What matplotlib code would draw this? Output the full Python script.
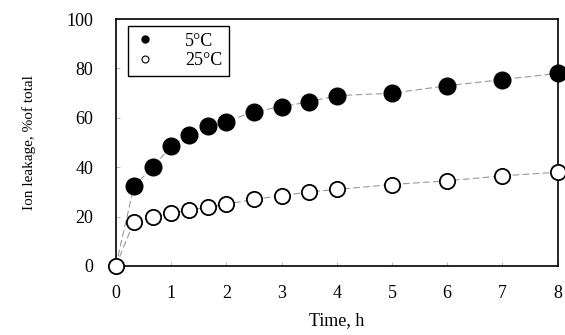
import matplotlib.pyplot as plt

plt.rcParams['font.family'] = ['Liberation Serif', 'DejaVu Serif']

time_h = [0, 0.33, 0.67, 1, 1.33, 1.67, 2, 2.5, 3, 3.5, 4, 5, 6, 7, 8]
leak_5c = [0, 32.5, 40, 48.5, 53, 56.5, 58.5, 62.5, 64.5, 66.5, 69, 70, 73, 75.5, 78]
leak_25c = [0, 18, 20, 21.5, 22.5, 24, 25, 27, 28.5, 30, 31, 33, 34.5, 36.5, 38]

fig = plt.figure(figsize=(5.65, 3.35), dpi=100)
ax = fig.add_axes([0.205, 0.206, 0.782, 0.737])

ax.plot(time_h, leak_5c, color='#999999', lw=0.8, ls=(0, (6, 3)), zorder=1)
ax.plot(time_h[1:], leak_5c[1:], 'o', color='black', ms=12, ls='none', zorder=3)
ax.plot(time_h, leak_25c, color='#999999', lw=0.8, ls=(0, (6, 3)), zorder=1)
ax.plot(time_h, leak_25c, 'o', mfc='white', mec='black', mew=1.3, ms=11, ls='none', zorder=4)

# legend handles with small markers
h1, = ax.plot([], [], 'o', color='black', ms=5)
h2, = ax.plot([], [], 'o', mfc='white', mec='black', mew=0.8, ms=5)
leg = ax.legend([h1, h2], ['5°C', '25°C'], loc='upper left', bbox_to_anchor=(0.02, 0.985),
                fancybox=False, edgecolor='black', fontsize=13, handlelength=1.2,
                handletextpad=1.6, borderpad=0.35, labelspacing=0.15, framealpha=1,
                borderaxespad=0.2)
leg.get_frame().set_linewidth(1.0)

ax.set_xlim(0, 8)
ax.set_ylim(0, 100)
ax.set_xticks(range(0, 9))
ax.set_yticks(range(0, 101, 20))
ax.tick_params(direction='in', length=3, color='#bbbbbb', labelsize=13)
ax.tick_params(axis='x', pad=14)
ax.tick_params(axis='y', pad=16)
for s in ax.spines.values():
    s.set_linewidth(1.2)
for line in ax.lines:
    line.set_clip_on(False)

ax.set_xlabel('Time, h', fontsize=13, labelpad=7)
ax.set_ylabel('Ion leakage, %of total', fontsize=11, labelpad=22)

fig.savefig('out.png', dpi=100)
